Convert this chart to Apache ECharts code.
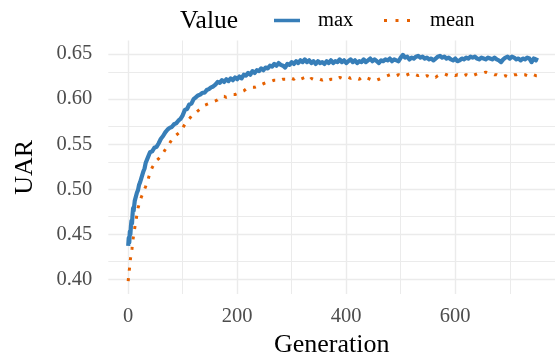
<!DOCTYPE html>
<html>
<head>
<meta charset="utf-8">
<script src="https://cdn.jsdelivr.net/npm/echarts@6/dist/echarts.min.js"></script>
<style>html,body{margin:0;padding:0;background:#fff}#c{width:555px;height:354px}</style>
</head>
<body>
<div id="c"></div>
<script>
var generations = [0,1,2,3,4,5,6,7,8,9,10,
12,14,16,18,20,22,24,26,28,30,32,34,36,38,40,
44,48,52,56,60,64,68,72,76,80,
84,88,92,96,100,104,108,112,116,120,
124,128,132,136,140,144,148,152,156,160,
164,168,172,176,180,184,188,192,196,200,
204,208,212,216,220,224,228,232,236,240,
244,248,252,256,260,264,268,272,276,280,
284,288,292,296,300,304,308,312,316,320,
324,328,332,336,340,344,348,352,356,360,
364,368,372,376,380,384,388,392,396,400,
404,408,412,416,420,424,428,432,436,440,
444,448,452,456,460,464,468,472,476,480,
484,488,492,496,500,504,508,512,516,520,
524,528,532,536,540,544,548,552,556,560,
564,568,572,576,580,584,588,592,596,600,
604,608,612,616,620,624,628,632,636,640,
644,648,652,656,660,664,668,672,676,680,
684,688,692,696,700,704,708,712,716,720,
724,728,732,736,740,744,748,
750];

var maxValues = [0.437,0.446,0.441,0.453,0.450,0.459,0.465,0.462,0.472,0.479,0.476,
0.487,0.489,0.496,0.499,0.505,0.508,0.512,0.514,0.520,0.523,0.529,0.530,0.535,0.537,0.541,
0.542,0.546,0.547,0.551,0.556,0.559,0.563,0.566,0.568,0.569,
0.572,0.573,0.576,0.578,0.582,0.588,0.589,0.594,0.595,0.600,
0.602,0.604,0.605,0.607,0.607,0.610,0.611,0.613,0.614,0.616,
0.619,0.618,0.621,0.619,0.622,0.620,0.623,0.621,0.624,0.622,
0.625,0.623,0.627,0.626,0.629,0.627,0.631,0.629,0.632,0.631,
0.634,0.632,0.635,0.634,0.637,0.636,0.639,0.637,0.640,0.638,
0.637,0.635,0.639,0.638,0.641,0.639,0.642,0.640,0.643,0.641,
0.644,0.641,0.643,0.640,0.642,0.639,0.642,0.640,0.641,0.639,
0.642,0.640,0.643,0.640,0.642,0.641,0.644,0.641,0.643,0.640,
0.642,0.644,0.641,0.643,0.640,0.642,0.641,0.644,0.641,0.643,
0.645,0.642,0.644,0.642,0.640,0.643,0.642,0.644,0.643,0.645,
0.642,0.644,0.643,0.642,0.646,0.649,0.646,0.647,0.644,0.646,
0.645,0.647,0.648,0.646,0.647,0.645,0.646,0.644,0.645,0.643,
0.645,0.647,0.648,0.646,0.647,0.645,0.646,0.644,0.643,0.645,
0.642,0.643,0.645,0.644,0.646,0.645,0.647,0.646,0.647,0.645,
0.644,0.646,0.645,0.644,0.646,0.645,0.644,0.646,0.644,0.643,
0.641,0.644,0.646,0.647,0.645,0.647,0.646,0.644,0.645,0.643,
0.645,0.644,0.646,0.645,0.641,0.645,0.643,
0.646];

var meanValues = [0.398,0.405,0.410,0.416,0.422,0.426,0.430,0.434,0.440,0.445,0.449,
0.457,0.464,0.472,0.479,0.483,0.487,0.491,0.494,0.497,0.500,0.503,0.507,0.510,0.514,0.518,
0.524,0.528,0.532,0.534,0.537,0.540,0.544,0.548,0.551,0.555,
0.558,0.560,0.562,0.564,0.568,0.572,0.575,0.578,0.581,0.583,
0.585,0.587,0.589,0.591,0.593,0.594,0.595,0.596,0.597,0.598,
0.599,0.601,0.603,0.603,0.602,0.603,0.604,0.605,0.605,0.606,
0.607,0.608,0.609,0.611,0.612,0.612,0.613,0.613,0.614,0.614,
0.616,0.617,0.618,0.619,0.619,0.620,0.621,0.621,0.622,0.621,
0.622,0.622,0.621,0.622,0.623,0.622,0.624,0.623,0.622,0.623,
0.624,0.623,0.621,0.623,0.622,0.622,0.621,0.622,0.621,0.622,
0.623,0.621,0.622,0.622,0.621,0.623,0.624,0.623,0.624,0.625,
0.624,0.623,0.624,0.624,0.623,0.622,0.624,0.623,0.624,0.623,
0.622,0.621,0.620,0.621,0.622,0.623,0.624,0.625,0.626,0.627,
0.626,0.625,0.626,0.627,0.626,0.627,0.626,0.627,0.628,0.627,
0.626,0.627,0.626,0.627,0.626,0.625,0.626,0.625,0.624,0.625,
0.624,0.626,0.627,0.628,0.628,0.627,0.626,0.627,0.627,0.626,
0.627,0.626,0.627,0.626,0.627,0.626,0.627,0.626,0.627,0.628,
0.628,0.629,0.629,0.630,0.629,0.628,0.628,0.627,0.627,0.626,
0.626,0.625,0.626,0.625,0.626,0.626,0.627,0.627,0.628,0.628,
0.627,0.627,0.626,0.627,0.628,0.627,0.626,
0.626];

var xTickLabels = [0, 200, 400, 600];
var xMinorBreaks = [100, 300, 500, 700];
var yTickLabels = [0.40, 0.45, 0.50, 0.55, 0.60, 0.65];
var yMinorBreaks = [0.425, 0.475, 0.525, 0.575, 0.625];

function pairs(vals) {
  var out = [];
  for (var i = 0; i < generations.length && i < vals.length; i++) out.push([generations[i], vals[i]]);
  return out;
}

var FONT = '"Liberation Serif", "DejaVu Serif", serif';
var GRID = '#EBEBEB';
var BLUE = '#377EB8';
var ORANGE = '#E66101';

var gridLines = [];
xTickLabels.forEach(function (v) { gridLines.push({ xAxis: v, lineStyle: { width: 1.4 } }); });
xMinorBreaks.forEach(function (v) { gridLines.push({ xAxis: v, lineStyle: { width: 1.0 } }); });
yTickLabels.forEach(function (v) { gridLines.push({ yAxis: v, lineStyle: { width: 1.4 } }); });
yMinorBreaks.forEach(function (v) { gridLines.push({ yAxis: v, lineStyle: { width: 1.0 } }); });

var chart = echarts.init(document.getElementById('c'), null, { renderer: 'canvas' });
chart.setOption({
  animation: false,
  backgroundColor: '#fff',
  textStyle: { fontFamily: FONT },
  grid: { left: 108.3, right: 0, top: 40.5, bottom: 60, containLabel: false, outerBoundsMode: 'none' },
  graphic: [{
    type: 'text', left: 180, top: 8,
    style: { text: 'Value', fontFamily: FONT, fontSize: 25.5, fill: '#000' }
  }],
  legend: [{
    data: [{ name: 'max', icon: 'rect' }], left: 274, top: 10, padding: 0,
    itemWidth: 26, itemHeight: 3.5, itemGap: 0,
    textStyle: { fontFamily: FONT, fontSize: 20.5, color: '#000', padding: [0, 0, 0, 13] }
  }, {
    data: [{ name: 'mean', icon: 'path://M0,0h3v3h-3zM11.5,0h3v3h-3zM23,0h3v3h-3z' }], left: 384, top: 10, padding: 0,
    itemWidth: 26, itemHeight: 3, itemGap: 0,
    textStyle: { fontFamily: FONT, fontSize: 20.5, color: '#000', padding: [0, 0, 0, 15] }
  }],
  xAxis: {
    type: 'value', min: -36.5, max: 783,
    name: 'Generation', nameLocation: 'middle', nameGap: 32,
    nameTextStyle: { fontFamily: FONT, fontSize: 26, color: '#000' },
    axisLine: { show: false }, axisTick: { show: false }, splitLine: { show: false },
    axisLabel: { customValues: xTickLabels, margin: 12, fontFamily: FONT, fontSize: 20.5, color: '#4D4D4D' }
  },
  yAxis: {
    type: 'value', min: 0.3837, max: 0.665,
    name: 'UAR', nameLocation: 'middle', nameGap: 70, nameRotate: 90,
    nameTextStyle: { fontFamily: FONT, fontSize: 26, color: '#000' },
    axisLine: { show: false }, axisTick: { show: false }, splitLine: { show: false },
    axisLabel: {
      customValues: yTickLabels, margin: 16, fontFamily: FONT, fontSize: 20.5, color: '#4D4D4D',
      formatter: function (v) { return v.toFixed(2); }
    }
  },
  series: [{
    name: 'grid', type: 'line', data: [], z: 0, silent: true,
    markLine: {
      z: 0, silent: true, symbol: ['none', 'none'], label: { show: false },
      lineStyle: { color: GRID, type: 'solid' }, emphasis: { disabled: true },
      data: gridLines
    }
  }, {
    name: 'max', type: 'line', data: pairs(maxValues), symbol: 'none', showSymbol: false, z: 3,
    silent: true,
    lineStyle: { color: BLUE, width: 4.2, join: 'round' }, itemStyle: { color: BLUE }
  }, {
    name: 'mean', type: 'line', data: pairs(meanValues), symbol: 'none', showSymbol: false, z: 2,
    silent: true,
    lineStyle: { color: ORANGE, width: 3, type: [3, 7.5], cap: 'butt' }, itemStyle: { color: ORANGE }
  }]
});
</script>
</body>
</html>
